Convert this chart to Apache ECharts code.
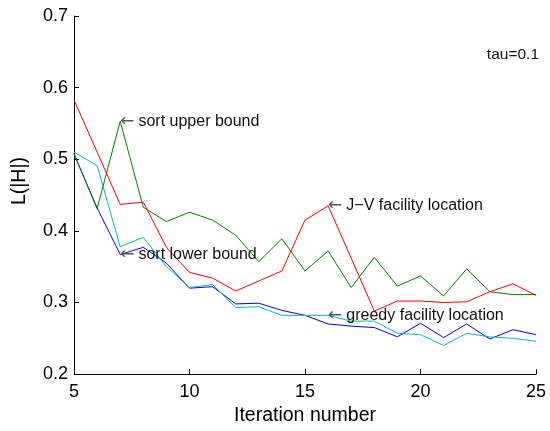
<!DOCTYPE html>
<html>
<head>
<meta charset="utf-8">
<script src="https://cdn.jsdelivr.net/npm/echarts@6/dist/echarts.min.js"></script>
<style>
html,body{margin:0;padding:0;background:#fff;}
#chart{width:550px;height:431px;}
</style>
</head>
<body>
<div id="chart"></div>
<script>
var iterations = [5,6,7,8,9,10,11,12,13,14,15,16,17,18,19,20,21,22,23,24,25];
var sortLowerBound = [0.507,0.432,0.367,0.377,0.355,0.320,0.322,0.298,0.299,0.289,0.282,0.270,0.267,0.265,0.252,0.271,0.251,0.270,0.249,0.262,0.255];
var sortUpperBound = [0.508,0.431,0.553,0.433,0.413,0.426,0.415,0.394,0.357,0.389,0.344,0.372,0.321,0.363,0.323,0.337,0.309,0.347,0.315,0.311,0.311];
var greedyFacility = [0.510,0.491,0.378,0.391,0.350,0.321,0.325,0.293,0.294,0.282,0.282,0.282,0.274,0.274,0.257,0.255,0.240,0.257,0.252,0.250,0.246];
var jvFacility = [0.583,0.510,0.437,0.440,0.377,0.342,0.334,0.316,0.330,0.344,0.415,0.435,0.362,0.288,0.302,0.302,0.300,0.301,0.315,0.326,0.310];
var xTicks = [5,10,15,20,25];
var yTicks = [0.2,0.3,0.4,0.5,0.6,0.7];
var annotations = [
  {text:'sort upper bound', series:'sortUpper', iter:7},
  {text:'sort lower bound', series:'sortLower', iter:7},
  {text:'J\u2212V facility location', series:'jv', iter:16},
  {text:'greedy facility location', series:'greedy', iter:16}
];

var FONT = '"Liberation Sans", Arial, Helvetica, sans-serif';
function pairs(vals){ return iterations.map(function(x,i){ return [x, vals[i]]; }); }
var seriesDefs = [
  {id:'sortLower', vals:sortLowerBound, color:'#0000ff'},
  {id:'sortUpper', vals:sortUpperBound, color:'#008000'},
  {id:'greedy', vals:greedyFacility, color:'#00bfbf'},
  {id:'jv', vals:jvFacility, color:'#ff0000'}
];
function markFor(id, vals){
  var d = annotations.filter(function(a){return a.series===id;}).map(function(a){
    var idx = iterations.indexOf(a.iter);
    return {coord:[a.iter, vals[idx]], value:a.text};
  });
  return {
    symbol:'circle', symbolSize:0, silent:true,
    label:{show:true, position:'right', distance:0,
      formatter:function(p){ return '{a|\u2190}{t|'+p.value+'}'; },
      rich:{
        a:{fontFamily:'"DejaVu Sans"', fontSize:17, color:'#555555', padding:[0,4,0,0]},
        t:{fontFamily:FONT, fontSize:16, color:'#111111'}
      }
    },
    data:d
  };
}
var chart = echarts.init(document.getElementById('chart'), null, {renderer:'canvas'});
chart.setOption({
  animation:false,
  backgroundColor:'#ffffff',
  title:{text:'tau=0.1', right:6, top:42, textStyle:{fontFamily:FONT, fontSize:15.5, fontWeight:'normal', color:'#111'}},
  grid:{left:74, right:14, top:16, bottom:50},
  xAxis:{
    type:'value', min:xTicks[0], max:xTicks[xTicks.length-1], interval:5,
    name:'Iteration number', nameLocation:'middle', nameGap:26,
    nameTextStyle:{fontFamily:FONT, fontSize:19.5, color:'#000'},
    axisLine:{lineStyle:{color:'#000', width:1}},
    axisTick:{inside:true, length:5, lineStyle:{color:'#000'}},
    axisLabel:{fontFamily:FONT, fontSize:18, color:'#000', margin:9},
    splitLine:{show:false}
  },
  yAxis:{
    type:'value', min:yTicks[0], max:yTicks[yTicks.length-1], interval:0.1,
    name:'L(|H|)', nameLocation:'middle', nameGap:44, nameRotate:90,
    nameTextStyle:{fontFamily:FONT, fontSize:19.5, color:'#000', padding:[0,0,0,28]},
    axisLine:{show:true, lineStyle:{color:'#000', width:1}},
    axisTick:{show:true, inside:true, length:5, lineStyle:{color:'#000'}},
    axisLabel:{fontFamily:FONT, fontSize:18, color:'#000', margin:6,
      formatter:function(v){ return v.toFixed(1); }},
    splitLine:{show:false}
  },
  series: seriesDefs.map(function(s){
    return {
      id:s.id, type:'line', data:pairs(s.vals), showSymbol:false, symbol:'none',
      lineStyle:{color:s.color, width:1}, itemStyle:{color:s.color},
      markPoint: markFor(s.id, s.vals)
    };
  })
});
</script>
</body>
</html>
